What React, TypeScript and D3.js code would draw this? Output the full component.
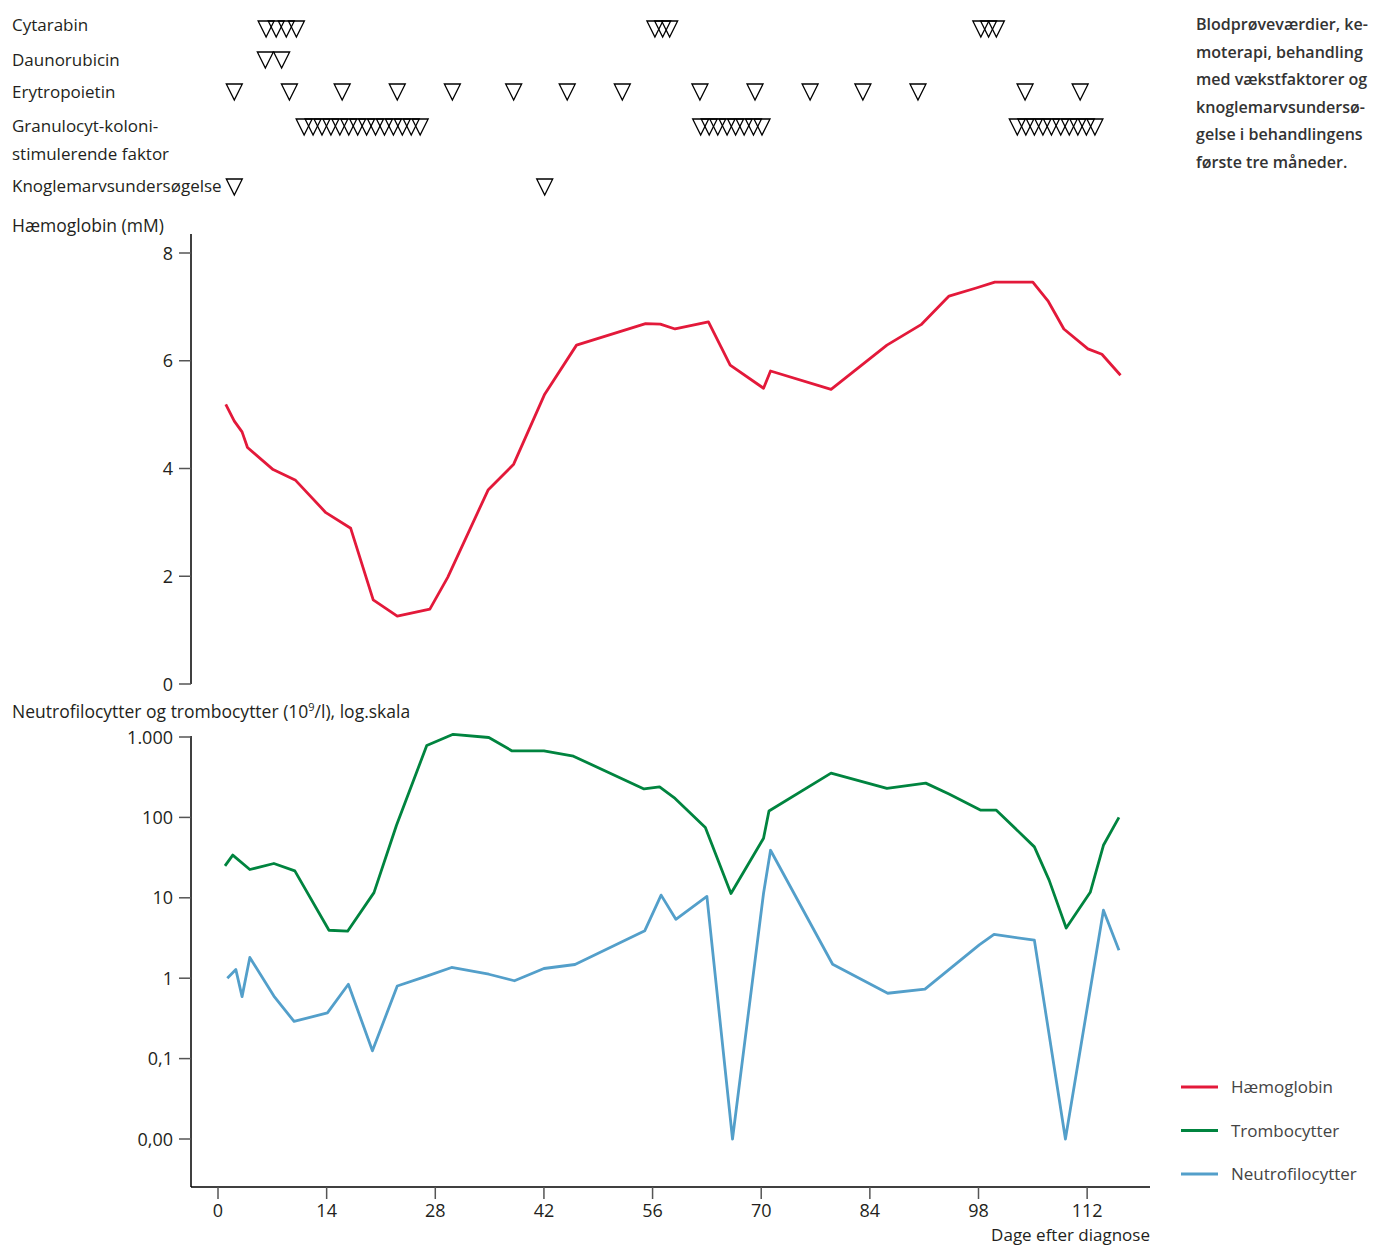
import React from "react";
import * as d3 from "d3";

// blood values (day after diagnosis)
const hbDays = [1.0, 2.1, 3.1, 3.8, 7.1, 10.0, 13.9, 17.1, 20.0, 23.1, 27.3, 29.6, 34.8, 38.1, 42.1, 46.2, 55.1, 57.0, 58.9, 63.2, 66.0, 70.3, 71.2, 79.0, 86.2, 90.6, 94.2, 97.7, 100.1, 105.0, 107.0, 109.0, 112.1, 113.9, 116.3];
const hbValues = [5.19, 4.88, 4.68, 4.39, 3.98, 3.78, 3.18, 2.89, 1.56, 1.26, 1.39, 1.98, 3.6, 4.08, 5.38, 6.29, 6.69, 6.68, 6.59, 6.72, 5.92, 5.49, 5.81, 5.47, 6.29, 6.67, 7.2, 7.35, 7.46, 7.46, 7.1, 6.59, 6.22, 6.12, 5.73];

const tromboDays = [0.9, 1.9, 4.1, 7.2, 9.9, 14.3, 16.7, 20.1, 23.0, 26.9, 30.3, 34.9, 37.9, 42.0, 45.8, 54.9, 56.9, 58.9, 62.8, 66.1, 70.3, 71.0, 79.0, 86.2, 91.2, 94.2, 98.3, 100.3, 105.2, 107.1, 109.3, 112.4, 114.1, 116.1];
const tromboValues = [25, 34, 22.5, 26.7, 21.6, 3.95, 3.84, 11.6, 80, 783, 1080, 986, 671, 671, 577, 226, 240, 172, 75, 11.3, 55, 120, 355, 230, 267, 195, 123, 123, 43, 16.6, 4.2, 11.7, 45, 100];

const neutroDays = [1.2, 2.3, 3.1, 4.1, 7.2, 9.8, 14.1, 16.8, 19.9, 23.1, 26.9, 30.1, 34.9, 38.2, 42.0, 46.0, 55.0, 57.1, 59.0, 63.0, 66.3, 70.3, 71.2, 79.2, 86.3, 91.1, 98.1, 100.0, 105.2, 109.2, 114.1, 116.1];
const neutroValues = [1.0, 1.28, 0.59, 1.81, 0.6, 0.29, 0.37, 0.84, 0.125, 0.8, 1.06, 1.36, 1.12, 0.93, 1.32, 1.48, 3.9, 10.8, 5.4, 10.4, 0, 11.4, 39, 1.49, 0.65, 0.73, 2.6, 3.5, 2.97, 0, 7.0, 2.23];

// treatment days (one triangle each)
const cytarabinDays = [6.2, 7.5, 8.8, 10.1, 56.3, 57.3, 58.2, 98.3, 99.3, 100.3];
const daunorubicinDays = [6.1, 8.2];
const erytropoietinDays = [2.1, 9.2, 16.0, 23.1, 30.2, 38.1, 45.0, 52.1, 62.1, 69.2, 76.3, 83.1, 90.2, 104.0, 111.1];
const gcsfDays = [
  11.1, 12.25, 13.4, 14.55, 15.7, 16.85, 18.0, 19.15, 20.3, 21.45, 22.6, 23.75, 24.9, 26.05,
  62.2, 63.3, 64.4, 65.6, 66.7, 67.8, 69.0, 70.1,
  103.0, 104.1, 105.2, 106.3, 107.4, 108.6, 109.7, 110.8, 111.9, 113.0
];
const knoglemarvDays = [2.1, 42.1];

const xTicks = [0, 14, 28, 42, 56, 70, 84, 98, 112];
const hbTicks = [0, 2, 4, 6, 8];
const logTicks = [1000, 100, 10, 1, 0.1, 0.01];
const logTickLabels = ["1.000", "100", "10", "1", "0,1", "0,00"];

const RED = "#e3193a";
const GREEN = "#00843f";
const BLUE = "#539fca";
const INK = "#231f20";
const LABEL_FONT = "'Open Sans', sans-serif";

const rows = [
  { days: cytarabinDays, top: 21 },
  { days: daunorubicinDays, top: 52 },
  { days: erytropoietinDays, top: 84 },
  { days: gcsfDays, top: 119 },
  { days: knoglemarvDays, top: 179 }
];

const rowLabels = [
  { text: "Cytarabin", y: 31 },
  { text: "Daunorubicin", y: 66 },
  { text: "Erytropoietin", y: 98 },
  { text: "Granulocyt-koloni-", y: 132 },
  { text: "stimulerende faktor", y: 160 },
  { text: "Knoglemarvsundersøgelse", y: 192 }
];

const noteLines = [
  "Blodprøveværdier, ke-",
  "moterapi, behandling",
  "med vækstfaktorer og",
  "knoglemarvsundersø-",
  "gelse i behandlingens",
  "første tre måneder."
];

const legend = [
  { name: "Hæmoglobin", color: RED },
  { name: "Trombocytter", color: GREEN },
  { name: "Neutrofilocytter", color: BLUE }
];

export default function App() {
  const x = d3.scaleLinear().domain([-3.48, 120.1]).range([191, 1150]);
  const yHb = d3.scaleLinear().domain([0, 8]).range([684, 253]);
  const yLog = d3.scaleLog().domain([Math.pow(10, -2.597), 1000]).range([1187, 737]);

  const hbLine = d3
    .line<number>()
    .x((d, i) => x(hbDays[i]))
    .y(d => yHb(d));
  const logLine = (days: number[]) =>
    d3
      .line<number>()
      .x((d, i) => x(days[i]))
      .y(d => yLog(Math.max(d, 0.01)));

  const tri = (cx: number, top: number) =>
    `M${cx - 8},${top}L${cx + 8},${top}L${cx},${top + 16}Z`;

  return (
    <div style={{ position: "absolute", left: 0, top: 0 }}>
      <svg width={1373} height={1247} style={{ display: "block" }}>
        <rect width={1373} height={1247} fill="#fff" />

        {/* treatment rows */}
        {rowLabels.map(r => (
          <text key={r.text} x={12} y={r.y} fontFamily={LABEL_FONT} fontSize={17} fill={INK}>
            {r.text}
          </text>
        ))}
        {rows.map((r, ri) => (
          <g key={ri} fill="none" stroke="#000" strokeWidth={1.3} strokeLinejoin="miter">
            {r.days.map((d, i) => (
              <path key={i} d={tri(x(d), r.top)} />
            ))}
          </g>
        ))}

        {/* side note, condensed to fit the right margin */}
        <g transform="translate(1196,0) scale(0.945,1)">
          {noteLines.map((t, i) => (
            <text key={t} x={0} y={30 + i * 27.6} fontFamily={LABEL_FONT} fontSize={17} fontWeight={600} fill="#333">
              {t}
            </text>
          ))}
        </g>

        {/* haemoglobin panel */}
        <text x={12} y={232} fontFamily={LABEL_FONT} fontSize={17.5} fill={INK}>
          Hæmoglobin (mM)
        </text>
        <line x1={191} x2={191} y1={234} y2={684} stroke="#000" strokeWidth={1.5} />
        {hbTicks.map(t => (
          <g key={t}>
            <line x1={179} x2={191} y1={yHb(t)} y2={yHb(t)} stroke="#555" strokeWidth={1.5} />
            <text x={173} y={yHb(t) + 6.5} textAnchor="end" fontFamily={LABEL_FONT} fontSize={18} fill={INK}>
              {t}
            </text>
          </g>
        ))}
        <path d={hbLine(hbValues) || ""} fill="none" stroke={RED} strokeWidth={2.8} strokeLinejoin="round" />

        {/* cell count panel */}
        <text x={12} y={718} fontFamily={LABEL_FONT} fontSize={17.5} fill={INK}>
          Neutrofilocytter og trombocytter (10
          <tspan dy={-7} fontSize={11}>9</tspan>
          <tspan dy={7}>/l), log.skala</tspan>
        </text>
        <line x1={191} x2={191} y1={736} y2={1187} stroke="#000" strokeWidth={1.5} />
        {logTicks.map((t, i) => (
          <g key={t}>
            <line x1={179} x2={191} y1={yLog(t)} y2={yLog(t)} stroke="#555" strokeWidth={1.5} />
            <text x={173} y={yLog(t) + 6.5} textAnchor="end" fontFamily={LABEL_FONT} fontSize={18} fill={INK}>
              {logTickLabels[i]}
            </text>
          </g>
        ))}
        <path d={logLine(tromboDays)(tromboValues) || ""} fill="none" stroke={GREEN} strokeWidth={2.8} strokeLinejoin="round" />
        <path d={logLine(neutroDays)(neutroValues) || ""} fill="none" stroke={BLUE} strokeWidth={2.8} strokeLinejoin="round" />

        {/* x axis */}
        <line x1={191} x2={1150} y1={1187} y2={1187} stroke="#000" strokeWidth={1.5} />
        {xTicks.map(t => (
          <g key={t}>
            <line x1={x(t)} x2={x(t)} y1={1187} y2={1199} stroke="#555" strokeWidth={1.5} />
            <text x={x(t)} y={1217} textAnchor="middle" fontFamily={LABEL_FONT} fontSize={18} fill={INK}>
              {t}
            </text>
          </g>
        ))}
        <text x={1150} y={1241} textAnchor="end" fontFamily={LABEL_FONT} fontSize={17} fill={INK}>
          Dage efter diagnose
        </text>

        {/* legend */}
        {legend.map((l, i) => (
          <g key={l.name}>
            <line x1={1181} x2={1218} y1={1087 + i * 43.5} y2={1087 + i * 43.5} stroke={l.color} strokeWidth={2.8} />
            <text x={1231} y={1093 + i * 43.5} fontFamily={LABEL_FONT} fontSize={17} fill="#444">
              {l.name}
            </text>
          </g>
        ))}
      </svg>
    </div>
  );
}
